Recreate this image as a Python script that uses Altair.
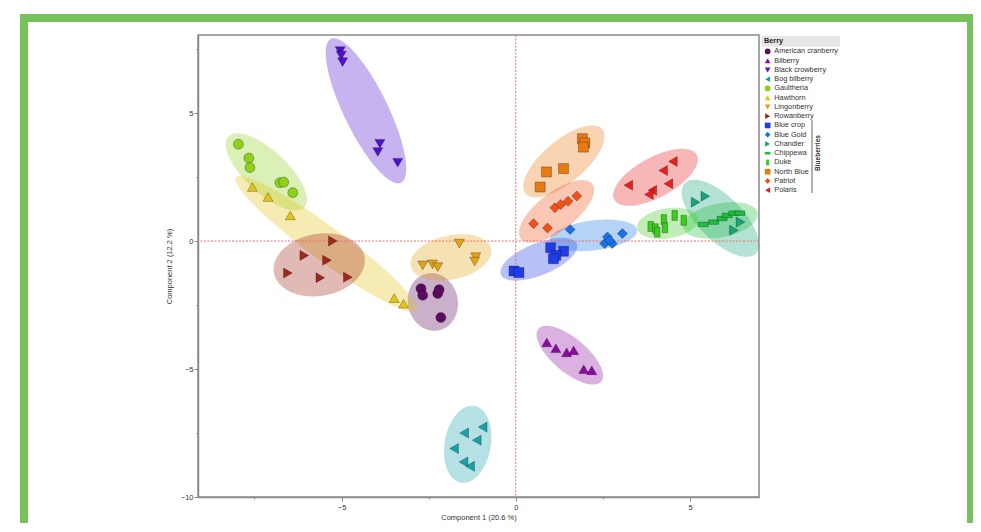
import numpy as np
import pandas as pd
import altair as alt

FONT = "Liberation Sans"

# ---------------- data ----------------
BERRIES = ["American cranberry", "Bilberry", "Black crowberry", "Bog bilberry",
           "Gaultheria", "Hawthorn", "Lingonberry", "Rowanberry",
           "Blue crop", "Blue Gold", "Chandler", "Chippewa", "Duke",
           "North Blue", "Patriot", "Polaris"]

SHAPES = ["circle", "triangle-up", "triangle-down", "triangle-left",
          "circle", "triangle-up", "triangle-down", "triangle-right",
          "square", "diamond", "triangle-right",
          "M-1,-0.45L1,-0.45L1,0.45L-1,0.45Z",
          "M-0.55,-1L0.55,-1L0.55,1L-0.55,1Z",
          "square", "diamond", "triangle-left"]

COLORS = ["#5E0A5E", "#8B0BA0", "#4F12CC", "#17A2A8",
          "#8ED11B", "#E4C514", "#E3A314", "#A3261A",
          "#1F3BE8", "#1A72E6", "#17A57A", "#1DBE3E", "#3ECB1F",
          "#E97A12", "#F0511A", "#E8201F"]

pc1_american_cranberry = [-2.72, -2.67, -2.24, -2.20, -2.15]
pc2_american_cranberry = [-1.86, -2.12, -2.05, -1.90, -2.99]
pc1_bilberry = [0.89, 1.15, 1.46, 1.66, 1.95, 2.18]
pc2_bilberry = [-3.96, -4.19, -4.35, -4.27, -5.01, -5.05]
pc1_black_crowberry = [-5.04, -5.01, -4.97, -3.90, -3.96, -3.39]
pc2_black_crowberry = [7.42, 7.25, 6.99, 3.80, 3.48, 3.06]
pc1_bog_bilberry = [-0.95, -1.48, -1.12, -1.77, -1.50, -1.31]
pc2_bog_bilberry = [-7.27, -7.50, -7.78, -8.11, -8.63, -8.80]
pc1_gaultheria = [-7.96, -7.66, -7.63, -6.77, -6.66, -6.40]
pc2_gaultheria = [3.78, 3.24, 2.87, 2.28, 2.30, 1.89]
pc1_hawthorn = [-7.56, -7.11, -6.47, -3.49, -3.22]
pc2_hawthorn = [2.11, 1.72, 1.00, -2.23, -2.45]
pc1_lingonberry = [-2.67, -2.39, -2.24, -1.62, -1.15, -1.18]
pc2_lingonberry = [-0.95, -0.91, -1.02, -0.10, -0.63, -0.80]
pc1_rowanberry = [-6.54, -5.61, -4.82, -5.25, -6.07, -5.42]
pc2_rowanberry = [-1.25, -1.43, -1.41, 0.00, -0.56, -0.75]
pc1_blue_crop = [-0.05, 0.09, 1.00, 1.37, 1.15, 1.08]
pc2_blue_crop = [-1.17, -1.23, -0.26, -0.40, -0.56, -0.69]
pc1_blue_gold = [1.56, 2.63, 2.55, 2.77, 2.69, 3.06]
pc2_blue_gold = [0.45, 0.16, -0.10, -0.10, 0.03, 0.29]
pc1_chandler = [5.16, 5.44, 6.45, 6.26]
pc2_chandler = [1.52, 1.75, 0.74, 0.42]
pc1_chippewa = [5.38, 5.68, 5.92, 6.07, 6.26, 6.43]
pc2_chippewa = [0.65, 0.74, 0.88, 1.00, 1.09, 1.09]
pc1_duke = [3.87, 4.01, 4.06, 4.25, 4.28, 4.56, 4.82]
pc2_duke = [0.57, 0.48, 0.35, 0.84, 0.52, 1.00, 0.81]
pc1_north_blue = [1.91, 1.98, 1.94, 1.37, 0.88, 0.70]
pc2_north_blue = [4.00, 3.83, 3.67, 2.83, 2.70, 2.11]
pc1_patriot = [0.51, 0.91, 1.12, 1.29, 1.50, 1.75]
pc2_patriot = [0.68, 0.51, 1.30, 1.43, 1.55, 1.76]
pc1_polaris = [3.23, 3.92, 3.82, 4.38, 4.23, 4.51]
pc2_polaris = [2.18, 1.98, 1.82, 2.24, 2.76, 3.11]

PC1 = [pc1_american_cranberry, pc1_bilberry, pc1_black_crowberry, pc1_bog_bilberry,
       pc1_gaultheria, pc1_hawthorn, pc1_lingonberry, pc1_rowanberry,
       pc1_blue_crop, pc1_blue_gold, pc1_chandler, pc1_chippewa, pc1_duke,
       pc1_north_blue, pc1_patriot, pc1_polaris]
PC2 = [pc2_american_cranberry, pc2_bilberry, pc2_black_crowberry, pc2_bog_bilberry,
       pc2_gaultheria, pc2_hawthorn, pc2_lingonberry, pc2_rowanberry,
       pc2_blue_crop, pc2_blue_gold, pc2_chandler, pc2_chippewa, pc2_duke,
       pc2_north_blue, pc2_patriot, pc2_polaris]

# group ellipses: centre (data units), semi-axes (px), tilt (deg, screen)
ell_cx = [-2.38, 1.55, -4.30, -1.38, -7.16, -5.44, -1.86, -5.64,
          0.66, 2.23, 5.87, 5.87, 4.36, 1.38, 1.17, 4.01]
ell_cy = [-2.38, -4.46, 5.09, -7.94, 2.70, -0.11, -0.64, -0.93,
          -0.71, 0.22, 0.89, 0.81, 0.69, 3.11, 1.16, 2.49]
ell_a = [29, 41, 80, 39, 52, 112, 41, 46, 41, 44, 50, 38, 31, 50, 45, 47]
ell_b = [25, 17, 22, 23, 21, 17, 22, 31, 16, 15, 22, 17, 15, 21, 19, 20]
ell_ang = [78, 40, 64, -80, 43, 36.5, -12, -10, -22, -7, 45, -11, -9, -40, -37.5, -28.5]

X_DOMAIN = [-9.12, 6.98]
Y_DOMAIN = [-10.0, 8.05]
W, H = 561, 462

# ---------------- tables ----------------
rows = []
for name, xs_, ys_ in zip(BERRIES, PC1, PC2):
    for a, b in zip(xs_, ys_):
        rows.append({"Berry": name, "pc1": a, "pc2": b})
points = pd.DataFrame(rows)

SX = W / (X_DOMAIN[1] - X_DOMAIN[0])
SY = H / (Y_DOMAIN[1] - Y_DOMAIN[0])

erows = []
for name, cx, cy, a, b, ang in zip(BERRIES, ell_cx, ell_cy, ell_a, ell_b, ell_ang):
    th = np.radians(ang)
    c, s = np.cos(th), np.sin(th)
    umax = np.sqrt((a * c) ** 2 + (b * s) ** 2)
    phi = np.linspace(0, np.pi, 120)
    u = -umax * np.cos(phi)
    A = s ** 2 / a ** 2 + c ** 2 / b ** 2
    B = 2 * u * c * s * (1 / a ** 2 - 1 / b ** 2)
    C = u ** 2 * (c ** 2 / a ** 2 + s ** 2 / b ** 2) - 1
    disc = np.clip(B ** 2 - 4 * A * C, 0, None)
    v1 = (-B - np.sqrt(disc)) / (2 * A)
    v2 = (-B + np.sqrt(disc)) / (2 * A)
    for uu, a1, a2 in zip(u, v1, v2):
        erows.append({"grp": name, "pc1": cx + uu / SX,
                      "pc2": cy - a1 / SY, "pc2b": cy - a2 / SY})
ell_df = pd.DataFrame(erows)

# ---------------- chart ----------------
xs = alt.Scale(domain=X_DOMAIN, nice=False, zero=False)
ys = alt.Scale(domain=Y_DOMAIN, nice=False, zero=False)
AXIS_GRAY = "#8a8a8a"
TICK_COND = {"condition": {"test": "datum.value % 5 != 0", "value": 2}, "value": 4}

x_axis = alt.Axis(values=[-7.5, -5, -2.5, 0, 2.5, 5], title="Component 1 (20.6 %)",
                  labelExpr="datum.value % 5 == 0 ? datum.label : ''",
                  tickSize=TICK_COND, grid=False, labelPadding=2, titlePadding=3)
y_axis = alt.Axis(values=[-10, -7.5, -5, -2.5, 0, 2.5, 5, 7.5], title="Component 2 (12.2 %)",
                  labelExpr="datum.value % 5 == 0 ? datum.label : ''",
                  tickSize=TICK_COND, grid=False, labelPadding=1, titlePadding=7)

legend = alt.Legend(title="Berry", orient="none", legendX=566, legendY=2,
                    titleFontSize=7.3, titleFontWeight="bold", titleFont=FONT,
                    titleColor="#222222", labelFontSize=7.3, labelFont=FONT,
                    labelColor="#333333", symbolSize=32, rowPadding=1.25,
                    titlePadding=3.5, padding=0, labelOffset=3,
                    symbolStrokeWidth=0, symbolOpacity=1, labelLimit=200)

X_ENC = alt.X("pc1:Q", scale=xs, axis=x_axis, title="Component 1 (20.6 %)")
Y_ENC = alt.Y("pc2:Q", scale=ys, axis=y_axis, title="Component 2 (12.2 %)")

one = pd.DataFrame({"pc1": [0.0], "pc2": [0.0]})
GREEN = "#77C25A"

border_left = alt.Chart(one).mark_rect(color=GREEN).encode(
    x=alt.value(-178), x2=alt.value(-170), y=alt.value(-21), y2=alt.value(520))
border_top = alt.Chart(one).mark_rect(color=GREEN).encode(
    x=alt.value(-178), x2=alt.value(775), y=alt.value(-21), y2=alt.value(-13))
border_right = alt.Chart(one).mark_rect(color=GREEN).encode(
    x=alt.value(769), x2=alt.value(775), y=alt.value(-21), y2=alt.value(520))

ellipses = alt.Chart(ell_df).mark_area(fillOpacity=0.32, strokeWidth=0).encode(
    x=X_ENC,
    y=alt.Y("pc2:Q", scale=ys, axis=y_axis, title="Component 2 (12.2 %)", stack=None),
    y2="pc2b:Q",
    fill=alt.Fill("grp:N", scale=alt.Scale(domain=BERRIES, range=COLORS), legend=None),
    detail="grp:N")

vrule = alt.Chart(one).mark_rule(color="#EC6F6F", strokeDash=[2, 1.5], strokeWidth=1).encode(
    x=X_ENC)
hrule = alt.Chart(one).mark_rule(color="#EC6F6F", strokeDash=[2, 1.5], strokeWidth=1).encode(
    y=Y_ENC)

pts = alt.Chart(points).mark_point(filled=True, size=100, stroke="#000000",
                                   strokeOpacity=0.35, strokeWidth=0.8, opacity=1).encode(
    x=X_ENC,
    y=Y_ENC,
    color=alt.Color("Berry:N", scale=alt.Scale(domain=BERRIES, range=COLORS), legend=legend),
    shape=alt.Shape("Berry:N", scale=alt.Scale(domain=BERRIES, range=SHAPES), legend=legend))

title_bg = alt.Chart(one).mark_rect(color="#E6E6E6").encode(
    x=alt.value(563.5), x2=alt.value(642), y=alt.value(1), y2=alt.value(11.7))

bracket = alt.Chart(one).mark_rule(color="#666666", strokeWidth=1).encode(
    x=alt.value(614), y=alt.value(85), y2=alt.value(158))

bracket_text = alt.Chart(one).mark_text(
    text="Blueberries", angle=270, font=FONT, fontSize=6.5, fontWeight="bold",
    color="#333333", align="center", baseline="middle").encode(
    x=alt.value(620), y=alt.value(118))

chart = alt.layer(ellipses, vrule, hrule, pts, border_left, border_top, border_right,
                  title_bg, bracket, bracket_text).properties(
    width=W, height=H,
    autosize=alt.AutoSizeParams(type="none"),
    padding={"left": 190, "top": 27, "right": 214, "bottom": 26},
    background="white",
).resolve_scale(fill="independent", color="independent", shape="independent"
).configure_view(
    stroke=AXIS_GRAY, strokeWidth=1.5
).configure_axis(
    domainColor=AXIS_GRAY, domainWidth=1.5, tickColor=AXIS_GRAY, tickWidth=1,
    labelFont=FONT, labelFontSize=7.5, labelColor="#333333",
    titleFont=FONT, titleFontSize=7.5, titleFontWeight="normal", titleColor="#333333"
)

chart.save("out.html", embed_options={"renderer": "svg", "actions": False})
